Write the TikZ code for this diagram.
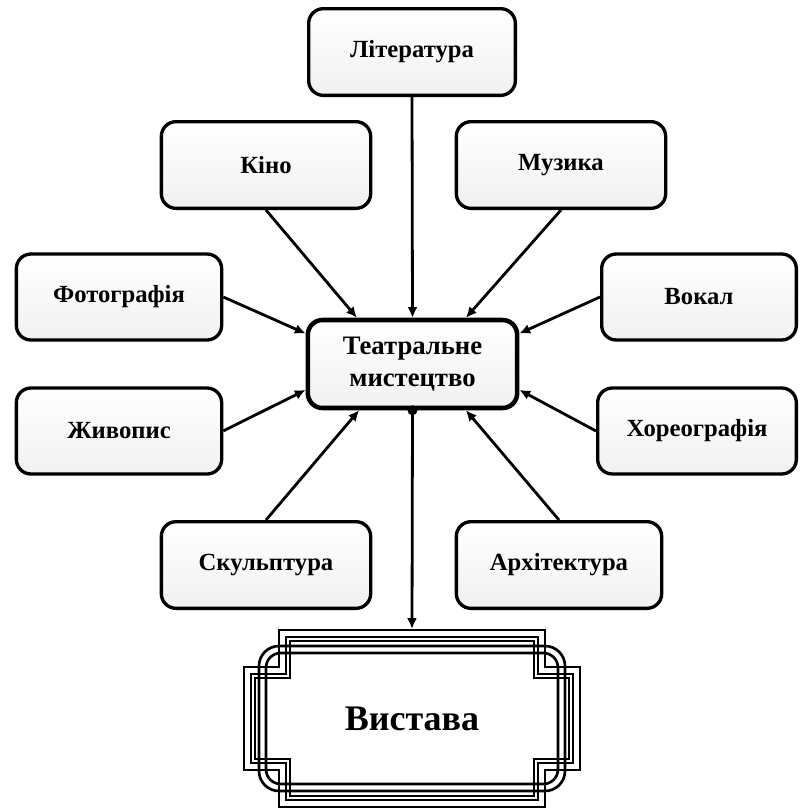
\documentclass[tikz,border=0pt]{standalone}
\usepackage{fontspec}
\setmainfont{Liberation Serif}
\usetikzlibrary{arrows.meta,calc}
\begin{document}
\begin{tikzpicture}[x=0.75pt,y=-0.75pt,
  box/.style={draw, line width=2.5pt, rounded corners=11pt, top color=white, bottom color=gray!11,
    minimum height=65pt, inner sep=0pt, font=\bfseries\fontsize{18.5}{20}\selectfont},
  arr/.style={line width=2.1pt, -{Latex[length=8pt,width=7.5pt]}},
  frame/.style={line width=2pt}
]
\useasboundingbox (0,0) rectangle (801,811);

\node[box, minimum width=155pt] (lit) at (412,52) {Література};
\node[box, minimum width=157pt] (kino) at (266,165) {Кіно};
\node[box, minimum width=157pt] (muz) at (561,165) {Музика};
\node[box, minimum width=154pt, minimum height=64.5pt] (foto) at (119,297) {Фотографія};
\node[box, minimum width=146pt, minimum height=64.5pt] (vokal) at (699,297) {Вокал};
\node[box, minimum width=154pt, minimum height=64.5pt] (zhyv) at (119,431) {Живопис};
\node[box, minimum width=149pt, minimum height=64.5pt] (khor) at (697,431) {Хореографія};
\node[box, minimum width=157pt] (skul) at (266,565) {Скульптура};
\node[box, minimum width=154pt] (arkh) at (559,565) {Архітектура};

\node[box, line width=3.4pt, minimum width=157pt, minimum height=66pt, align=center,
  font=\bfseries\fontsize{20}{24}\selectfont] (center) at (412.5,364) {Театральне\\мистецтво};

\node[minimum width=253.5pt, minimum height=134pt, inner sep=0pt] (vyst) at (412,718.5) {};

\begin{scope}[shift={(vyst.center)}]
  \def\W{168}\def\H{88.5}\def\a{35}\def\b{37}
  \foreach \d in {0,7,11}{
    \draw[frame] (-\W+\a+\d,-\H+\d) -- (\W-\a-\d,-\H+\d) -- (\W-\a-\d,-\H+\b+\d) -- (\W-\d,-\H+\b+\d)
      -- (\W-\d,\H-\b-\d) -- (\W-\a-\d,\H-\b-\d) -- (\W-\a-\d,\H-\d) -- (-\W+\a+\d,\H-\d)
      -- (-\W+\a+\d,\H-\b-\d) -- (-\W+\d,\H-\b-\d) -- (-\W+\d,-\H+\b+\d) -- (-\W+\a+\d,-\H+\b+\d) -- cycle;
  }
  \draw[frame, rounded corners=15pt] (-\W+15,-\H+16) rectangle (\W-15,\H-16);
  \draw[frame, rounded corners=11pt] (-\W+22,-\H+23) rectangle (\W-22,\H-23);
\end{scope}
\node[font=\bfseries\fontsize{27}{30}\selectfont] (vysttext) at (vyst.center) {Вистава};

\draw[arr] (lit.south) -- (center.north);
\draw[arr] (kino.south) -- ($(center.north west)!0.24!(center.north east)$);
\draw[arr] (muz.south) -- ($(center.north west)!0.75!(center.north east)$);
\draw[arr] (foto.east) -- ($(center.north west)!0.17!(center.south west)$);
\draw[arr] (zhyv.east) -- ($(center.north west)!0.78!(center.south west)$);
\draw[arr] (vokal.west) -- ($(center.north east)!0.17!(center.south east)$);
\draw[arr] (khor.west) -- ($(center.north east)!0.78!(center.south east)$);
\draw[arr] (skul.north) -- ($(center.south west)!0.25!(center.south east)$);
\draw[arr] (arkh.north) -- ($(center.south west)!0.75!(center.south east)$);
\draw[arr] (center.south) -- (vyst.north);
\fill (center.south) circle (3.75pt);
\end{tikzpicture}
\end{document}
